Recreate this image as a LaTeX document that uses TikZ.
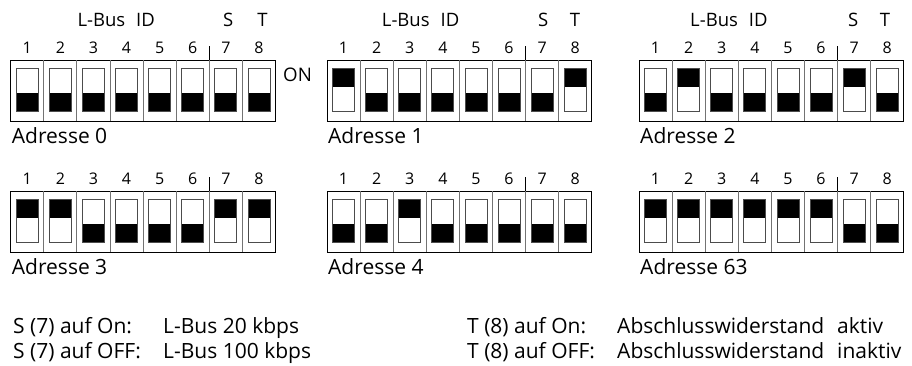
\documentclass[tikz,border=0pt]{standalone}
\usepackage{fontspec}
\setmainfont{Open Sans}
\tikzset{
  boxline/.style={draw=black, line width=0.9pt},
  cellline/.style={draw=black!55, line width=0.9pt},
  slotline/.style={draw=black!70, line width=0.8pt},
  knob/.style={fill=black},
  digit/.style={font=\fontsize{16}{16}\selectfont, anchor=base, inner sep=0pt},
  head/.style={font=\fontsize{18.5}{18.5}\selectfont, anchor=base, inner sep=0pt},
  headw/.style={font=\fontsize{18.5}{18.5}\selectfont, anchor=base west, inner sep=0pt},
  big/.style={font=\fontsize{21}{21}\selectfont, anchor=base west, inner sep=0pt},
}
\newcommand\dipblock[5]{%
  \begin{scope}[shift={(#2,#3)}]
    \draw[boxline] (0,0) rectangle (264.8,61);
    \foreach \k in {1,...,7} \draw[cellline] (\k*33.1,0) -- (\k*33.1,61);
    \draw[boxline] (6*33.1,-14) -- (6*33.1,0);
    \foreach \s [count=\i] in {#4} {
      \pgfmathsetmacro\cx{(\i-0.5)*33.1}
      \ifnum\s=1
        \fill[knob] (\cx-11,8.5) rectangle (\cx+11,27);
      \else
        \fill[knob] (\cx-11,33) rectangle (\cx+11,51.5);
      \fi
      \draw[slotline] (\cx-11,8.5) rectangle (\cx+11,51.5);
      \node[digit] (#1d\i) at (\cx,-6.7) {\i};
    }
    \node[big] (#1lab) at (1,83.3) {#5};
  \end{scope}
}
\begin{document}
\begin{tikzpicture}[x=1pt,y=-1pt]
  \useasboundingbox (0,0) rectangle (912,365);
  % row 1
  \dipblock{a}{10.7}{60}{0,0,0,0,0,0,0,0}{Adresse 0}
  \dipblock{b}{327}{60}{1,0,0,0,0,0,0,1}{Adresse 1}
  \dipblock{c}{639}{60}{0,1,0,0,0,0,1,0}{Adresse 2}
  % row 2
  \dipblock{d}{10.7}{191}{1,1,0,0,0,0,1,1}{Adresse 3}
  \dipblock{e}{327}{191}{0,0,1,0,0,0,0,0}{Adresse 4}
  \dipblock{f}{639}{191}{1,1,1,1,1,1,0,0}{Adresse 63}
  % headers
  \node[headw] (ida) at (77.3,26.7) {L-Bus\hspace{11pt}ID};
  \node[headw] (idb) at (381.7,26.7) {L-Bus\hspace{11pt}ID};
  \node[headw] (idc) at (690,26.7) {L-Bus\hspace{11pt}ID};
  \node[head] (sa) at (228.3,26.7) {S};
  \node[head] (ta) at (262.5,26.7) {T};
  \node[head] (sb) at (543.3,26.7) {S};
  \node[head] (tb) at (575,26.7) {T};
  \node[head] (sc) at (853.3,26.7) {S};
  \node[head] (tc) at (885,26.7) {T};
  \node[font=\fontsize{18.7}{18.7}\selectfont, anchor=base west, inner sep=0pt] (on) at (283,81.7) {ON};
  % legend
  \node[big] (s1) at (13,333.3) {S (7) auf On:};
  \node[big] (s1v) at (163,333.3) {L-Bus 20 kbps};
  \node[big] (s2) at (13,358.5) {S (7) auf OFF:};
  \node[big] (s2v) at (163,358.5) {L-Bus 100 kbps};
  \node[big] (t1) at (467,333.3) {T (8) auf On:};
  \node[big] (t1v) at (617,333.3) {Abschlusswiderstand};
  \node[big] (t1w) at (837,333.3) {aktiv};
  \node[big] (t2) at (467,358.5) {T (8) auf OFF:};
  \node[big] (t2v) at (617,358.5) {Abschlusswiderstand};
  \node[big] (t2w) at (837,358.5) {inaktiv};
\end{tikzpicture}
\end{document}
